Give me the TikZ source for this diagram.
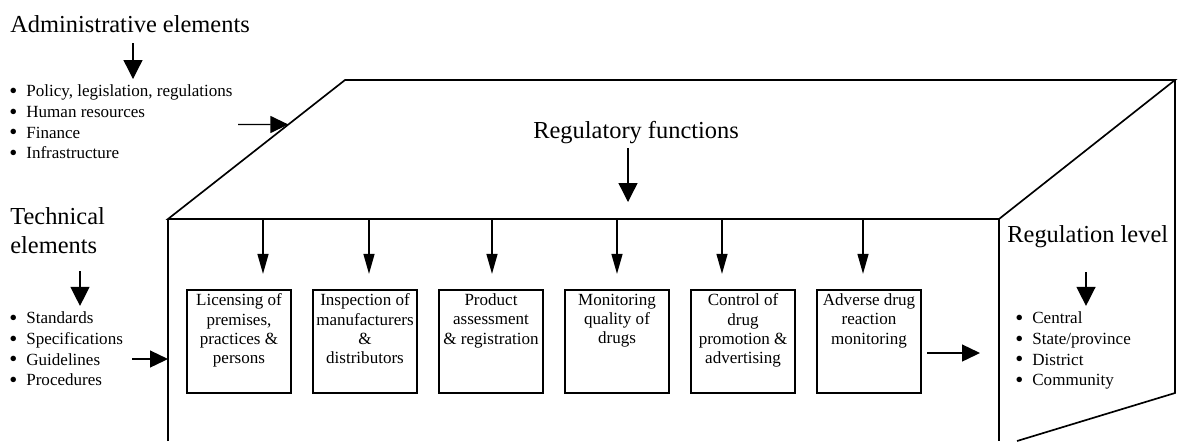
\documentclass[tikz,border=0pt]{standalone}
\usepackage{fontspec}
\setmainfont{Liberation Serif}
\usetikzlibrary{arrows.meta,positioning,calc}
\newcommand{\bigfont}{\fontsize{13.9}{16.5}\selectfont}
\newcommand{\boxfont}{\fontsize{9.7}{11}\selectfont}
\newcommand{\listfont}{\fontsize{9.7}{11.8}\selectfont}
\newcommand{\itm}{\makebox[0.34cm][l]{\raisebox{-1pt}{\fontsize{13}{13}\selectfont\textbullet}}}

\begin{document}
\begin{tikzpicture}[x=0.02cm,y=0.02cm,
  cube/.style={line width=0.95pt},
  funcbox/.style={draw, line width=1.3pt, minimum width=2.08cm, minimum height=2.06cm},
  functext/.style={font=\boxfont, align=center},
  heading/.style={font=\bigfont, align=left},
  items/.style={font=\listfont, align=left},
  bigarr/.style={line width=0.75pt, -{Triangle[length=0.38cm,width=0.38cm]}},
  smallarr/.style={line width=0.75pt, -{Triangle[length=0.4cm,width=0.22cm]}},
  sidearr/.style={line width=0.75pt, -{Triangle[length=0.36cm,width=0.34cm]}}]
\tikzstyle{every node}+=[inner sep=0pt]
\useasboundingbox (0,0) rectangle (1179,-441);

\coordinate (ftl) at (168,-219);
\coordinate (ftr) at (999,-219);
\coordinate (tbl) at (345,-80);
\coordinate (tbr) at (1175,-80);
\coordinate (fbl) at (168,-441);
\coordinate (fbr) at (999,-441);
\coordinate (rbr) at (1175,-393);
\coordinate (rbl) at (1017,-441);
\draw [cube] (ftl) -- (tbl) -- (tbr) -- (ftr) -- cycle;
\draw [cube] (fbl) -- (ftl);
\draw [cube] (ftr) -- (fbr);
\draw [cube] (tbr) -- (rbr) -- (rbl);

\node [heading, anchor=base west] (adm) at (10,-32) {Administrative elements};
\node [items, anchor=north west] (admlist) at (9,-84.5) {\itm Policy, legislation, regulations\\\itm Human resources\\\itm Finance\\\itm Infrastructure};
\node [heading, anchor=north west] (tech) at (10,-207.3) {Technical\\elements};
\node [items, anchor=north west] (techlist) at (9,-311.4) {\itm Standards\\\itm Specifications\\\itm Guidelines\\\itm Procedures};
\node [heading, anchor=base west] (regfun) at (533,-138) {Regulatory functions};
\node [heading, anchor=base west] (reglev) at (1007,-242) {Regulation level};
\node [items, anchor=north west] (levlist) at (1015,-311.4) {\itm Central\\\itm State/province\\\itm District\\\itm Community};

\node [funcbox] (b1) at (239,-341.5) {};
\node [funcbox, right=0.395cm of b1] (b2) {};
\node [funcbox, right=0.395cm of b2] (b3) {};
\node [funcbox, right=0.395cm of b3] (b4) {};
\node [funcbox, right=0.395cm of b4] (b5) {};
\node [funcbox, right=0.395cm of b5] (b6) {};
\node [functext, below=0.09cm of b1.north] {Licensing of\\premises,\\practices \&\\persons};
\node [functext, below=0.09cm of b2.north] {Inspection of\\manufacturers\\\&\\distributors};
\node [functext, below=0.09cm of b3.north] {Product\\assessment\\\& registration};
\node [functext, below=0.09cm of b4.north] {Monitoring\\quality of\\drugs};
\node [functext, below=0.09cm of b5.north] {Control of\\drug\\promotion \&\\advertising};
\node [functext, below=0.09cm of b6.north] {Adverse drug\\reaction\\monitoring};

\foreach \n/\x in {1/263,2/369,3/492,4/617,5/722,6/863}
{
\coordinate (t\n) at (\x,-219);
\draw [smallarr, shorten >=0.3cm] (t\n) -- (t\n |- b\n.north);
}

\coordinate (aa) at (133,-43);
\draw [bigarr, shorten >=0.11cm] (aa) -- (aa |- admlist.north);
\coordinate (ta) at (80,-271);
\draw [bigarr, shorten >=0.11cm] (ta) -- (ta |- techlist.north);
\coordinate (la) at (1086,-272);
\draw [bigarr, shorten >=0.11cm] (la) -- (la |- levlist.north);
\coordinate (rf) at (628,-148);
\draw [bigarr, shorten >=0.34cm] (rf) -- (rf |- ftl);

\coordinate (as) at (238,-124.5);
\coordinate (ae) at ($(ftl)!0.68!(tbl)$);
\draw [sidearr] (as) -- (ae);
\coordinate (gs) at (132,-359);
\draw [sidearr] (gs) -- (gs -| ftl);
\coordinate (ra) at (927,-353);
\draw [sidearr, shorten >=0.38cm] (ra) -- (ra -| ftr);
\end{tikzpicture}
\end{document}
